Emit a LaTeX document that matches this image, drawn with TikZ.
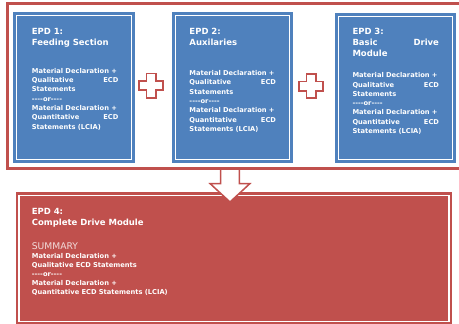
\documentclass[tikz,border=0pt]{standalone}
\usepackage{fontspec}
\setmainfont{DejaVu Sans}
\usetikzlibrary{calc}
\definecolor{epdblue}{HTML}{4F81BD}
\definecolor{epdred}{HTML}{C0504D}
\definecolor{epdpink}{HTML}{F2DCDB}
\newcommand{\orline}{{-}{-}{-}{-}or{-}{-}{-}{-}}
\newcommand{\epdtext}{Material Declaration +\\ Qualitative\hfill ECD\\ Statements\\ \orline\\ Material Declaration +\\ Quantitative\hfill ECD\\ Statements (LCIA)}

\begin{document}
\begin{tikzpicture}[x=1pt,y=-1pt, every node/.style={inner sep=0pt, text=white},
    epdbox/.style={rectangle, fill=#1, draw=#1, line width=2.9pt, double=white, double distance=1.1pt},
    epdtitle/.style={anchor=base west, text width=86.5pt, align=left, font=\fontsize{8.5}{11}\selectfont\bfseries},
    epdbody/.style={anchor=base west, text width=86.5pt, align=left, font=\fontsize{6.7}{9.3}\selectfont\bfseries},
    plussign/.style={draw=epdred, fill=white, line width=1.6pt, line join=miter}]
    \useasboundingbox (0,0) rectangle (459,324);
    \clip (0,0) rectangle (459,324);
    \node[epdbox=epdblue, minimum width=115pt, minimum height=144.3pt] (box1) at (74.2,87.2) {};
    \node[epdbox=epdblue, minimum width=113.6pt, minimum height=144.3pt] (box2) at (232.5,87.2) {};
    \node[epdbox=epdblue, minimum width=113.7pt, minimum height=142.6pt] (box3) at (395.2,88) {};
    \node[epdbox=epdred, minimum width=430pt, minimum height=126pt] (box4) at (234,258.7) {};
    \foreach \px/\py in {151/85.5, 311/86}{
        \draw[plussign] (\px,\py) +(-4.7,-12.2) -- +(4.7,-12.2) -- +(4.7,-4.7) -- +(12.2,-4.7) -- +(12.2,4.7) -- +(4.7,4.7)
            -- +(4.7,12.2) -- +(-4.7,12.2) -- +(-4.7,4.7) -- +(-12.2,4.7) -- +(-12.2,-4.7) -- +(-4.7,-4.7) -- cycle;
    }
    \coordinate (arrowtop) at (230,168.5);
    \coordinate (arrowtip) at (230,202);
    \draw[epdred, fill=white, line width=1.5pt] ($(arrowtop)+(-9.3,0)$) -- ($(arrowtop)+(-9.3,15.2)$) -- ($(arrowtop)+(-19.8,15.2)$)
        -- (arrowtip) -- ($(arrowtop)+(19.8,15.2)$) -- ($(arrowtop)+(9.3,15.2)$) -- ($(arrowtop)+(9.3,0)$);
    \draw[epdred, line width=2.2pt] (470,3.5) -- (7.5,3.5) -- (7.5,168.5) -- (470,168.5);
    \node[epdtitle] (title1) at (31.7,34.5) {EPD 1:\\ Feeding Section};
    \node[epdbody] (body1) at (31.7,73.3) {\epdtext};
    \node[epdtitle] (title2) at (189.3,34.5) {EPD 2:\\ Auxilaries};
    \node[epdbody] (body2) at (189.3,75.6) {\epdtext};
    \node[epdtitle] (title3) at (352.3,34.5) {EPD 3:\\ Basic\hfill Drive\\ Module};
    \node[epdbody] (body3) at (352.3,77.7) {\epdtext};
    \node[epdtitle, text width=200pt, font=\fontsize{8.5}{11.4}\selectfont\bfseries] (title4) at (31.7,214.3) {EPD 4:\\ Complete Drive Module};
    \node[anchor=base west, font=\fontsize{9.2}{11}\selectfont, text=epdpink] (summary4) at (31.7,249.3) {SUMMARY};
    \node[epdbody, text width=200pt, font=\fontsize{6.7}{9}\selectfont\bfseries] (body4) at (31.7,258.3) {Material Declaration +\\ Qualitative ECD Statements\\ \orline\\ Material Declaration +\\ Quantitative ECD Statements (LCIA)};
\end{tikzpicture}
\end{document}
